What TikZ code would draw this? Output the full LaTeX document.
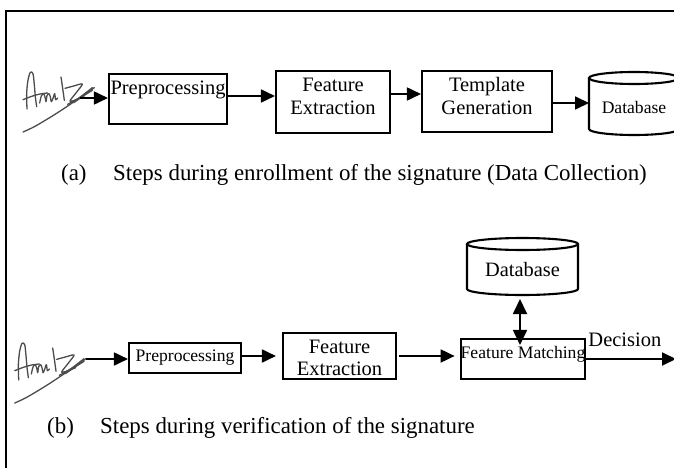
\documentclass[tikz,border=0pt]{standalone}
\usepackage{fontspec}
\setmainfont{Liberation Serif}
\usetikzlibrary{arrows.meta,calc}
\newcommand{\dbcyl}[3]{%
  \draw[boxline] ($(#1.north)+(0,-#3)$) ellipse ({#2} and {#3});
  \draw[boxline] ($(#1.north west)+(0,-#3)$) -- ($(#1.south west)+(0,#3)$)
    arc[start angle=180,end angle=360,x radius=#2,y radius=#3]
    -- ($(#1.north east)+(0,-#3)$);
}
\begin{document}
\begin{tikzpicture}[x=1pt,y=1pt,
  boxline/.style={line width=2.1pt},
  box/.style={draw, line width=2.1pt, inner sep=0pt},
  dbnode/.style={inner sep=0pt, outer sep=0pt},
  conn/.style={line width=1.8pt, -{Triangle[length=14pt,width=13pt]}},
  dconn/.style={line width=1.8pt, {Triangle[length=15pt,width=14pt]}-{Triangle[length=15pt,width=14pt]}},
  sigline/.style={line width=1.3pt, black!70, line cap=round, line join=round},
  big/.style={font=\fontsize{20.5}{23}\selectfont},
  small/.style={font=\fontsize{17.6}{20}\selectfont},
  captext/.style={font=\fontsize{22.9}{26}\selectfont, inner sep=0pt, anchor=base west},
  signature/.pic={
    \begin{scope}[scale=1/3,yscale=-1]
      \draw[sigline] plot[smooth] coordinates {(36,132) (35,85) (39,45) (46,22) (54,26) (58,60) (61,95) (65,125)};
      \draw[sigline] plot[smooth] coordinates {(24,104) (50,94) (75,87) (98,84)};
      \draw[sigline] plot[smooth] coordinates {(74,114) (79,93) (86,86) (91,100) (93,110) (96,92) (102,86) (106,96) (109,110) (114,100) (119,86) (122,104) (128,99)};
      \draw[sigline] plot[smooth] coordinates {(138,36) (143,70) (148,106)};
      \draw[sigline] plot[smooth] coordinates {(150,70) (176,63) (202,57) (186,80) (165,108) (184,104) (207,95)};
      \draw[sigline] plot[smooth] coordinates {(158,118) (190,100) (215,84) (238,68)};
      \draw[sigline] plot[smooth] coordinates {(176,113) (205,93) (232,76)};
      \draw[sigline] plot[smooth] coordinates {(232,68) (180,108) (120,148) (60,184) (24,201)};
    \end{scope}
  }
]
\useasboundingbox (0,0) rectangle (674,467);
\clip (0,0) rectangle (674,467);
\fill[white] (0,0) rectangle (674,467);
\draw[line width=2.4pt] (6,-20) rectangle (700,456);

% ---------- (a) enrollment ----------
\pic at (15,402) {signature};
\coordinate (s1) at (80,369);
\node[box, big, minimum width=118pt, minimum height=50pt, text height=0pt, text depth=10pt] (pre1) at (168,368) {Preprocessing};
\node[box, big, minimum width=114pt, minimum height=62pt, text height=0pt, text depth=22pt] (fe1) at (333,365) {\begin{tabular}[t]{@{}c@{}}Feature\\Extraction\end{tabular}};
\node[box, big, minimum width=130pt, minimum height=61pt, text height=0pt, text depth=21pt] (tg1) at (487,365.5) {\begin{tabular}[t]{@{}c@{}}Template\\Generation\end{tabular}};
\node[dbnode, small, minimum width=90pt, minimum height=63pt, text height=19pt, text depth=0pt] (db1) at (634,363.5) {Database};
\dbcyl{db1}{45}{6}

\draw[conn] (s1) -- (s1 -| pre1.west);
\draw[conn] ([yshift=3pt]pre1.east) -- ([yshift=3pt]pre1.east -| fe1.west);
\draw[conn] ([yshift=8pt]fe1.east) -- ([yshift=8pt]fe1.east -| tg1.west);
\draw[conn] ([yshift=-1.5pt]tg1.east) -- ([yshift=-1.5pt]tg1.east -| db1.west);

\node[captext] (capa) at (61,287) {(a)\hspace{26.6pt}Steps during enrollment of the signature (Data Collection)};

% ---------- (b) verification ----------
\pic at (6.7,131) {signature};
\coordinate (s2) at (86,108);
\node[box, small, minimum width=112pt, minimum height=30pt, text height=6pt, text depth=0pt] (pre2) at (185,109) {Preprocessing};
\node[box, font=\fontsize{20.5}{22}\selectfont, minimum width=113pt, minimum height=46pt, text height=0pt, text depth=5pt] (fe2) at (339.5,111) {\begin{tabular}[t]{@{}c@{}}Feature\\Extraction\end{tabular}};
\node[box, small, minimum width=124pt, minimum height=40pt, text height=0pt, text depth=2pt] (fm2) at (523,108) {Feature Matching};
\node[dbnode, font=\fontsize{20.4}{23}\selectfont, minimum width=111pt, minimum height=57pt, text height=19pt, text depth=0pt] (db2) at (522.5,200.5) {Database};
\dbcyl{db2}{55.5}{6}
\coordinate (dec) at (676,108);

\draw[conn] (s2) -- (s2 -| pre2.west);
\draw[conn, shorten >=6pt] ([yshift=2pt]pre2.east) -- ([yshift=2pt]pre2.east -| fe2.west);
\draw[conn, shorten <=2pt, shorten >=5pt] (fe2.east) -- (fe2.east -| fm2.west);
\draw[dconn] ([xshift=-2.5pt,yshift=-4pt]db2.south) -- ([xshift=-3pt,yshift=-7pt]fm2.north);
\draw[conn] (fm2.east) -- (dec) node[pos=0.43, above=9pt, inner sep=2pt, big] (declabel) {Decision};

\node[captext] (capb) at (47,34) {(b)\hspace{26.3pt}Steps during verification of the signature};
\end{tikzpicture}
\end{document}
